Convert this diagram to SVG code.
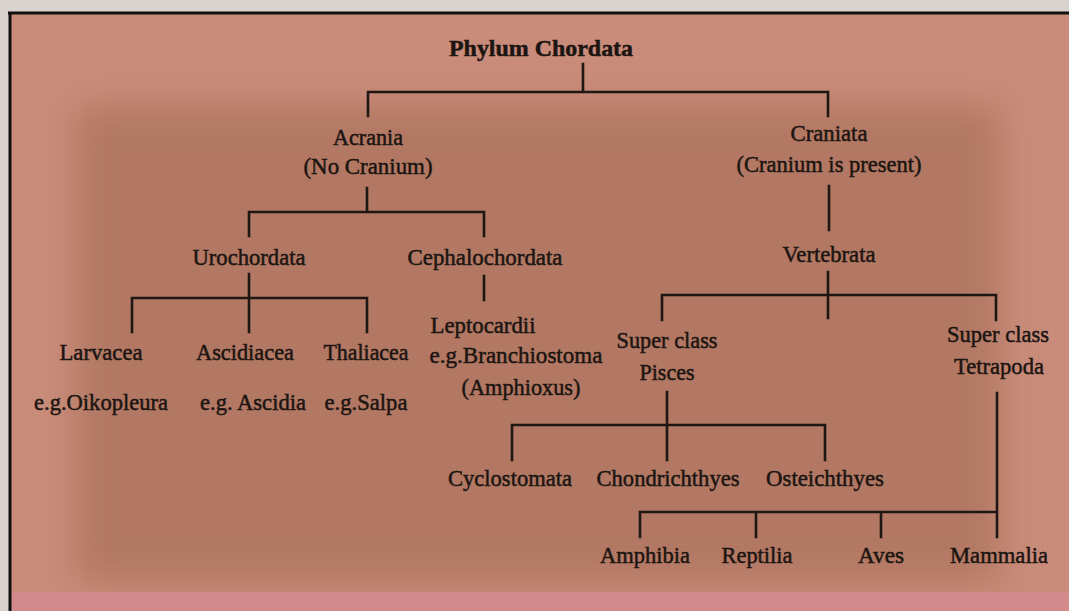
<svg xmlns="http://www.w3.org/2000/svg" width="1069" height="611" viewBox="0 0 1069 611">
<defs>
<filter id="soft" x="-10%" y="-10%" width="120%" height="120%"><feGaussianBlur stdDeviation="18"/></filter>
<style>
text{font-family:"Liberation Serif","Times New Roman",serif;font-size:23px;fill:#1c1511;stroke:#1c1511;stroke-width:0.5;text-anchor:middle}
.b{font-weight:bold;font-size:24px}
#connectors path{fill:none;stroke:#1e1713;stroke-width:2.6;stroke-linecap:square}
</style>
</defs>
<rect x="0" y="0" width="1069" height="611" fill="#d8d3cf"/>
<rect x="9" y="12" width="1060" height="599" fill="#c98c7a"/>
<rect x="75" y="105" width="925" height="478" fill="#b27864" filter="url(#soft)"/>
<rect x="9" y="592" width="1060" height="19" fill="#d48a90" opacity="0.8"/>
<path d="M8 13 H1069 M10 12 V611" stroke="#111" stroke-width="3" fill="none"/>

<g id="connectors">
<path d="M583 64 V92 M368 116 V92 H828 V116"/>
<path d="M367 188 V212 M249 236 V212 H484 V236"/>
<path d="M829 186 V230"/>
<path d="M249 274 V332 M132 332 V298 H367 V332"/>
<path d="M484 276 V300"/>
<path d="M828 272 V318 M662 320 V295 H996 V320"/>
<path d="M667 392 V460 M512 460 V425 H825 V460"/>
<path d="M997 393 V537 M640 537 V512 H997 M756 512 V537 M881 512 V537"/>
</g>

<g id="phylum"><text class="b" x="541" y="56" textLength="184" lengthAdjust="spacingAndGlyphs">Phylum Chordata</text></g>
<g id="acrania"><text x="368" y="145" textLength="70" lengthAdjust="spacingAndGlyphs">Acrania</text><text x="368" y="174" textLength="129" lengthAdjust="spacingAndGlyphs">(No Cranium)</text></g>
<g id="craniata"><text x="829" y="141" textLength="77" lengthAdjust="spacingAndGlyphs">Craniata</text><text x="829" y="172" textLength="185" lengthAdjust="spacingAndGlyphs">(Cranium is present)</text></g>
<g id="urochordata"><text x="249" y="265" textLength="113" lengthAdjust="spacingAndGlyphs">Urochordata</text></g>
<g id="cephalochordata"><text x="485" y="265" textLength="155" lengthAdjust="spacingAndGlyphs">Cephalochordata</text></g>
<g id="vertebrata"><text x="829" y="262" textLength="93" lengthAdjust="spacingAndGlyphs">Vertebrata</text></g>
<g id="larvacea"><text x="101" y="360" textLength="83" lengthAdjust="spacingAndGlyphs">Larvacea</text><text x="101" y="410" textLength="134" lengthAdjust="spacingAndGlyphs">e.g.Oikopleura</text></g>
<g id="ascidiacea"><text x="245" y="360" textLength="98" lengthAdjust="spacingAndGlyphs">Ascidiacea</text><text x="253" y="410" textLength="106" lengthAdjust="spacingAndGlyphs">e.g. Ascidia</text></g>
<g id="thaliacea"><text x="366" y="360" textLength="85" lengthAdjust="spacingAndGlyphs">Thaliacea</text><text x="366" y="410" textLength="83" lengthAdjust="spacingAndGlyphs">e.g.Salpa</text></g>
<g id="leptocardii"><text x="483" y="333" textLength="105" lengthAdjust="spacingAndGlyphs">Leptocardii</text><text x="516" y="363" textLength="173" lengthAdjust="spacingAndGlyphs">e.g.Branchiostoma</text><text x="521" y="395" textLength="119" lengthAdjust="spacingAndGlyphs">(Amphioxus)</text></g>
<g id="pisces"><text x="667" y="348" textLength="101" lengthAdjust="spacingAndGlyphs">Super class</text><text x="667" y="380" textLength="55" lengthAdjust="spacingAndGlyphs">Pisces</text></g>
<g id="tetrapoda"><text x="998" y="342" textLength="102" lengthAdjust="spacingAndGlyphs">Super class</text><text x="999" y="374" textLength="90" lengthAdjust="spacingAndGlyphs">Tetrapoda</text></g>
<g id="cyclostomata"><text x="510" y="486" textLength="124" lengthAdjust="spacingAndGlyphs">Cyclostomata</text></g>
<g id="chondrichthyes"><text x="668" y="486" textLength="143" lengthAdjust="spacingAndGlyphs">Chondrichthyes</text></g>
<g id="osteichthyes"><text x="825" y="486" textLength="118" lengthAdjust="spacingAndGlyphs">Osteichthyes</text></g>
<g id="amphibia"><text x="645" y="563" textLength="90" lengthAdjust="spacingAndGlyphs">Amphibia</text></g>
<g id="reptilia"><text x="757" y="563" textLength="71" lengthAdjust="spacingAndGlyphs">Reptilia</text></g>
<g id="aves"><text x="881" y="563" textLength="46" lengthAdjust="spacingAndGlyphs">Aves</text></g>
<g id="mammalia"><text x="999" y="563" textLength="98" lengthAdjust="spacingAndGlyphs">Mammalia</text></g>
</svg>
